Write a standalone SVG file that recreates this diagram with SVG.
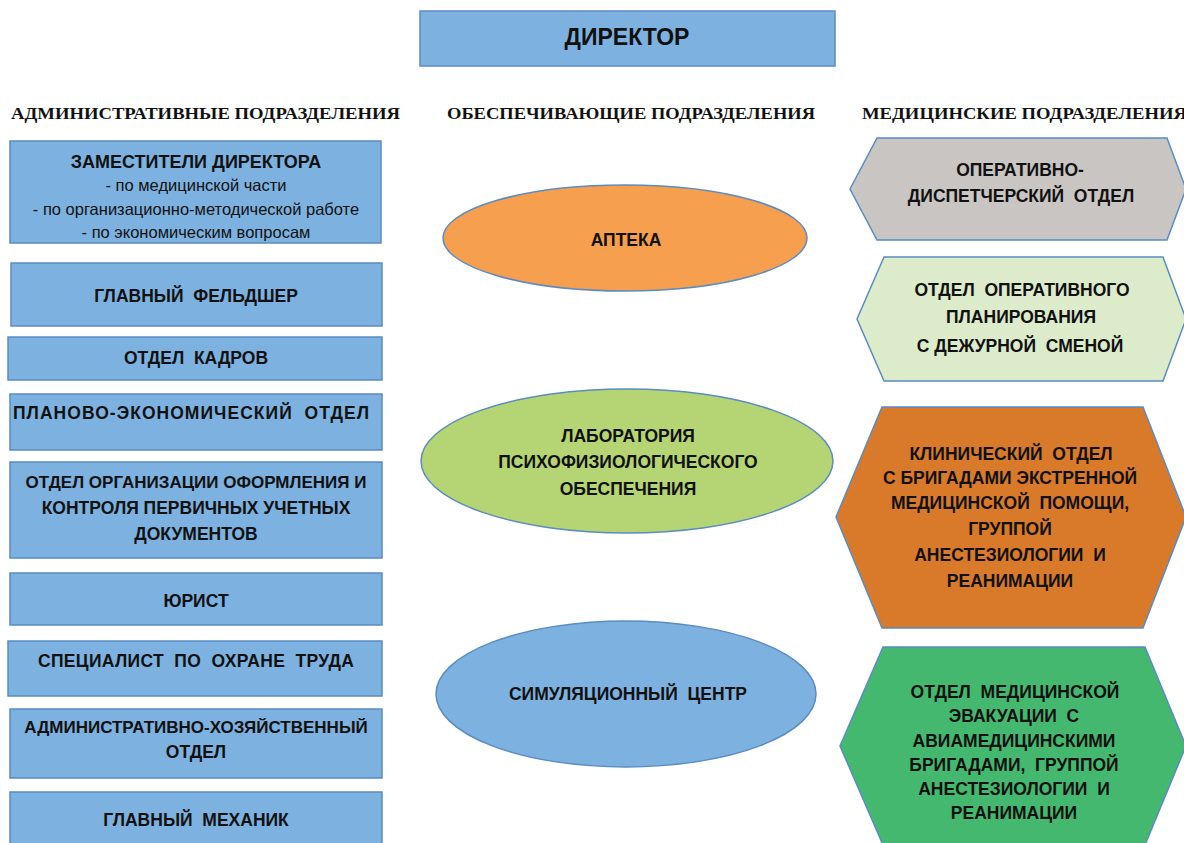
<svg xmlns="http://www.w3.org/2000/svg" width="1184" height="843" viewBox="0 0 1184 843">
<style>
.box{fill:#7DB1E0;stroke:#5A8CC0;stroke-width:1.5}
text{white-space:pre}
.t{font-family:"Liberation Sans",Arial,sans-serif;font-weight:bold;font-size:17.5px;fill:#111;text-anchor:middle}
.n{font-size:17px}
.s{font-family:"Liberation Sans",Arial,sans-serif;font-size:16.5px;fill:#111;text-anchor:middle}
.h{font-family:"Liberation Serif","Times New Roman",serif;font-weight:bold;font-size:17px;fill:#111}
.sh{stroke:#5A8CC0;stroke-width:1.5}
</style>
<rect width="1184" height="843" fill="#fff"/>
<g id="director"><rect class="box" x="420" y="11" width="415" height="55"/><text class="t" x="627" y="45" style="font-size:23px">ДИРЕКТОР</text></g>
<g id="headers">
<text class="h" x="11" y="119" textLength="389" lengthAdjust="spacingAndGlyphs">АДМИНИСТРАТИВНЫЕ ПОДРАЗДЕЛЕНИЯ</text>
<text class="h" x="447" y="119" textLength="368" lengthAdjust="spacingAndGlyphs">ОБЕСПЕЧИВАЮЩИЕ ПОДРАЗДЕЛЕНИЯ</text>
<text class="h" x="862" y="119" textLength="325" lengthAdjust="spacingAndGlyphs">МЕДИЦИНСКИЕ ПОДРАЗДЕЛЕНИЯ</text>
</g>
<g id="zam"><rect class="box" x="10" y="141" width="371" height="102"/>
<text class="t" x="196" y="168" style="font-size:18px">ЗАМЕСТИТЕЛИ ДИРЕКТОРА</text>
<text class="s" x="196" y="191">- по медицинской части</text>
<text class="s" x="196" y="215">- по организационно-методической работе</text>
<text class="s" x="196" y="238">- по экономическим вопросам</text></g>
<g id="feldsher"><rect class="box" x="11" y="263" width="371" height="63"/><text class="t" x="196" y="302">ГЛАВНЫЙ  ФЕЛЬДШЕР</text></g>
<g id="kadry"><rect class="box" x="8" y="337" width="374" height="43"/><text class="t" x="196" y="364">ОТДЕЛ  КАДРОВ</text></g>
<g id="plan"><rect class="box" x="10" y="394" width="372" height="56"/><text class="t" x="191" y="419" textLength="356" lengthAdjust="spacing">ПЛАНОВО-ЭКОНОМИЧЕСКИЙ  ОТДЕЛ</text></g>
<g id="org"><rect class="box" x="10" y="462" width="372" height="96"/>
<text class="t n" x="196" y="488">ОТДЕЛ ОРГАНИЗАЦИИ ОФОРМЛЕНИЯ И</text>
<text class="t" x="196" y="514">КОНТРОЛЯ ПЕРВИЧНЫХ УЧЕТНЫХ</text>
<text class="t" x="196" y="540">ДОКУМЕНТОВ</text></g>
<g id="jurist"><rect class="box" x="10" y="573" width="372" height="52"/><text class="t" x="196" y="607">ЮРИСТ</text></g>
<g id="ohrana"><rect class="box" x="8" y="641" width="374" height="55"/><text class="t" x="196" y="667" textLength="316" lengthAdjust="spacing">СПЕЦИАЛИСТ  ПО  ОХРАНЕ  ТРУДА</text></g>
<g id="ahch"><rect class="box" x="10" y="709" width="372" height="69"/>
<text class="t n" x="196" y="733">АДМИНИСТРАТИВНО-ХОЗЯЙСТВЕННЫЙ</text>
<text class="t" x="196" y="758">ОТДЕЛ</text></g>
<g id="mehanik"><rect class="box" x="10" y="792" width="372" height="60"/><text class="t" x="196" y="826">ГЛАВНЫЙ  МЕХАНИК</text></g>

<g id="apteka"><ellipse cx="625" cy="238" rx="182" ry="53" fill="#F69F4E" class="sh"/><text class="t" x="626" y="246">АПТЕКА</text></g>
<g id="lab"><ellipse cx="627" cy="461" rx="206" ry="72" fill="#B5D473" class="sh"/>
<text class="t" x="628" y="442">ЛАБОРАТОРИЯ</text>
<text class="t" x="628" y="468">ПСИХОФИЗИОЛОГИЧЕСКОГО</text>
<text class="t" x="628" y="495">ОБЕСПЕЧЕНИЯ</text></g>
<g id="sim"><ellipse cx="626" cy="694" rx="190" ry="73" fill="#7DB1E0" class="sh"/><text class="t" x="628" y="700">СИМУЛЯЦИОННЫЙ  ЦЕНТР</text></g>

<g id="odo"><polygon points="850,189 877,138 1167,138 1186,189 1167,240 877,240" fill="#C9C5C2" class="sh"/>
<text class="t" x="1020" y="176">ОПЕРАТИВНО-</text>
<text class="t" x="1021" y="202">ДИСПЕТЧЕРСКИЙ  ОТДЕЛ</text></g>
<g id="oop"><polygon points="857,319 884,257 1163,257 1186,319 1163,381 884,381" fill="#DCEBCA" class="sh"/>
<text class="t" x="1022" y="296">ОТДЕЛ  ОПЕРАТИВНОГО</text>
<text class="t" x="1021" y="323">ПЛАНИРОВАНИЯ</text>
<text class="t" x="1020" y="352">С ДЕЖУРНОЙ  СМЕНОЙ</text></g>
<g id="clinic"><polygon points="836,517 882,407 1143,407 1186,517 1143,628 882,628" fill="#D97A2A" class="sh"/>
<text class="t" x="1011" y="460">КЛИНИЧЕСКИЙ  ОТДЕЛ</text>
<text class="t" x="1010" y="484">С БРИГАДАМИ ЭКСТРЕННОЙ</text>
<text class="t" x="1010" y="509">МЕДИЦИНСКОЙ  ПОМОЩИ,</text>
<text class="t" x="1010" y="535">ГРУППОЙ</text>
<text class="t" x="1010" y="561">АНЕСТЕЗИОЛОГИИ  И</text>
<text class="t" x="1010" y="587">РЕАНИМАЦИИ</text></g>
<g id="evak"><polygon points="840,746 883,647 1145,647 1186,746 1145,845 883,845" fill="#45B870" class="sh"/>
<text class="t" x="1015" y="698">ОТДЕЛ  МЕДИЦИНСКОЙ</text>
<text class="t" x="1014" y="722">ЭВАКУАЦИИ  С</text>
<text class="t" x="1014" y="747">АВИАМЕДИЦИНСКИМИ</text>
<text class="t" x="1014" y="771">БРИГАДАМИ,  ГРУППОЙ</text>
<text class="t" x="1014" y="795">АНЕСТЕЗИОЛОГИИ  И</text>
<text class="t" x="1014" y="819">РЕАНИМАЦИИ</text></g>
<g id="connectors"></g>
</svg>
